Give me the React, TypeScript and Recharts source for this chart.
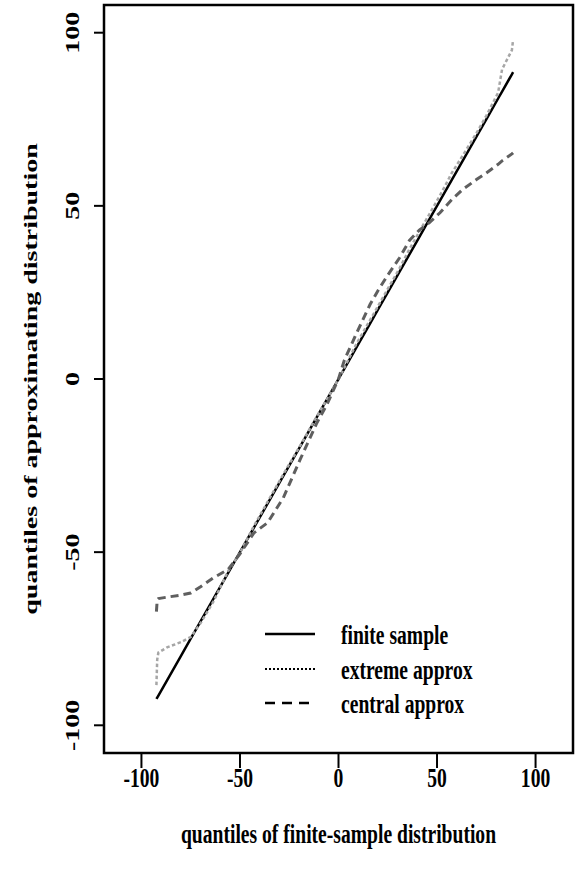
import React from 'react';
import { LineChart, Line, XAxis, YAxis, ReferenceArea } from 'recharts';

// quantiles of the finite-sample distribution (shared x)
const xQuantiles = [-92.4, -92.0, -91.4, -87, -80, -75, -70, -63.5, -56, -50, -43, -36, -28, -19.5, -11, -6, 0, 3, 9.4, 16, 20, 25, 31, 36, 41, 46, 51.5, 57.5, 63, 70, 75, 81, 83, 88, 88.6];
const finiteSample = [-92.4, -92.0, -91.4, -87, -80, -75, -70, -63.5, -56, -50, -43, -36, -28, -19.5, -11, -6, 0, 3, 9.4, 16, 20, 25, 31, 36, 41, 46, 51.5, 57.5, 63, 70, 75, 81, 83, 88, 88.6];
const extremeApprox = [-88.4, -81, -79, -77.5, -76, -74.5, -70.5, -64.3, -55.5, -50.2, -42.5, -35.5, -27.5, -19.3, -10.8, -6, 0, 3.3, 10.5, 17, 21, 26, 32, 37.5, 42.5, 47.5, 53, 59.5, 64.5, 71, 76, 82.7, 89.4, 95, 98];
const centralApprox = [-67.2, -63.8, -63.4, -63, -62.4, -61.8, -60, -57.4, -55, -50.5, -44.5, -41.5, -34.3, -23.3, -12.7, -7.5, 0, 5.5, 13.5, 21.5, 25.5, 30, 35, 40, 43, 45.1, 48, 51.8, 54.7, 57.6, 59.5, 62, 63, 65, 65.3];

const xTicks = [-100, -50, 0, 50, 100];
const yTicks = [-100, -50, 0, 50, 100];
const xDomain = [-119, 119];
const yDomain = [-108, 108];
const xTitle = 'quantiles of finite-sample distribution';
const yTitle = 'quantiles of approximating distribution';
const legendLabels = ['finite sample', 'extreme approx', 'central approx'];

const data = xQuantiles.map((x, i) => ({
  x,
  finite: finiteSample[i],
  extreme: extremeApprox[i],
  central: centralApprox[i],
}));

const W = 575;
const H = 878;
const PLOT_LEFT = 104;
const PLOT_TOP = 5;
const PLOT_RIGHT = 573;
const PLOT_BOTTOM = 753;
const FONT = '"Liberation Serif", "Times New Roman", serif';
const FS = 28;
const SQ = 0.7;

const XTick = (props: any) => {
  const { x, payload } = props;
  return (
    <text
      transform={`translate(${x},${PLOT_BOTTOM + 24}) scale(${SQ},1)`}
      textAnchor="middle"
      dominantBaseline="central"
      fontFamily={FONT}
      fontWeight="bold"
      fontSize={FS}
      fill="#000"
    >
      {payload.value}
    </text>
  );
};

const YTick = (props: any) => {
  const { y, payload } = props;
  return (
    <text
      transform={`translate(${PLOT_LEFT - 32},${y}) scale(${SQ},1) rotate(-90)`}
      textAnchor="middle"
      dominantBaseline="central"
      fontFamily={FONT}
      fontWeight="bold"
      fontSize={FS}
      fill="#000"
    >
      {payload.value}
    </text>
  );
};

const legendRows = [
  { y: 634, stroke: '#000', width: 2.5, dash: undefined as string | undefined },
  { y: 669, stroke: '#000', width: 2, dash: '2 2' },
  { y: 703, stroke: '#000', width: 2.5, dash: '10 7' },
];

export default function App() {
  return (
    <div style={{ position: 'absolute', left: 0, top: 0, width: W, height: H, background: '#fff' }}>
      <LineChart
        width={W}
        height={H}
        data={data}
        margin={{ top: PLOT_TOP, right: W - PLOT_RIGHT, left: 0, bottom: 0 }}
      >
        <XAxis
          dataKey="x"
          type="number"
          domain={xDomain}
          ticks={xTicks}
          allowDataOverflow
          height={H - PLOT_BOTTOM}
          tickSize={15}
          axisLine={false}
          tickLine={{ stroke: '#000', strokeWidth: 2 }}
          tick={<XTick />}
          interval={0}
        />
        <YAxis
          type="number"
          domain={yDomain}
          ticks={yTicks}
          allowDataOverflow
          width={PLOT_LEFT}
          tickSize={10}
          axisLine={false}
          tickLine={{ stroke: '#000', strokeWidth: 2 }}
          tick={<YTick />}
          interval={0}
        />
        <ReferenceArea
          x1={xDomain[0]}
          x2={xDomain[1]}
          y1={yDomain[0]}
          y2={yDomain[1]}
          fill="none"
          fillOpacity={0}
          stroke="#000"
          strokeWidth={2.5}
          ifOverflow="visible"
        />
        <Line
          type="linear"
          dataKey="finite"
          stroke="#000"
          strokeWidth={2.5}
          dot={false}
          isAnimationActive={false}
        />
        <Line
          type="linear"
          dataKey="extreme"
          stroke="#a6a6a6"
          strokeWidth={2.5}
          strokeDasharray="3.5 2.5"
          dot={false}
          isAnimationActive={false}
        />
        <Line
          type="linear"
          dataKey="central"
          stroke="#5f5f5f"
          strokeWidth={3}
          strokeDasharray="8 5"
          dot={false}
          isAnimationActive={false}
        />
      </LineChart>
      <svg
        width={W}
        height={H}
        style={{ position: 'absolute', left: 0, top: 0, pointerEvents: 'none' }}
      >
        <text
          transform={`translate(${(PLOT_LEFT + PLOT_RIGHT) / 2},${PLOT_BOTTOM + 80}) scale(${SQ},1)`}
          textAnchor="middle"
          dominantBaseline="central"
          fontFamily={FONT}
          fontWeight="bold"
          fontSize={FS}
          fill="#000"
        >
          {xTitle}
        </text>
        <text
          transform={`translate(30,${(PLOT_TOP + PLOT_BOTTOM) / 2}) scale(${SQ},1) rotate(-90)`}
          textAnchor="middle"
          dominantBaseline="central"
          fontFamily={FONT}
          fontWeight="bold"
          fontSize={FS}
          fill="#000"
        >
          {yTitle}
        </text>
        {legendRows.map((r, i) => (
          <g key={legendLabels[i]}>
            <line x1={265} x2={315} y1={r.y} y2={r.y} stroke={r.stroke} strokeWidth={r.width} strokeDasharray={r.dash} />
            <text
              transform={`translate(341,${r.y}) scale(${SQ},1)`}
              dominantBaseline="central"
              fontFamily={FONT}
              fontWeight="bold"
              fontSize={FS}
              fill="#000"
            >
              {legendLabels[i]}
            </text>
          </g>
        ))}
      </svg>
    </div>
  );
}
